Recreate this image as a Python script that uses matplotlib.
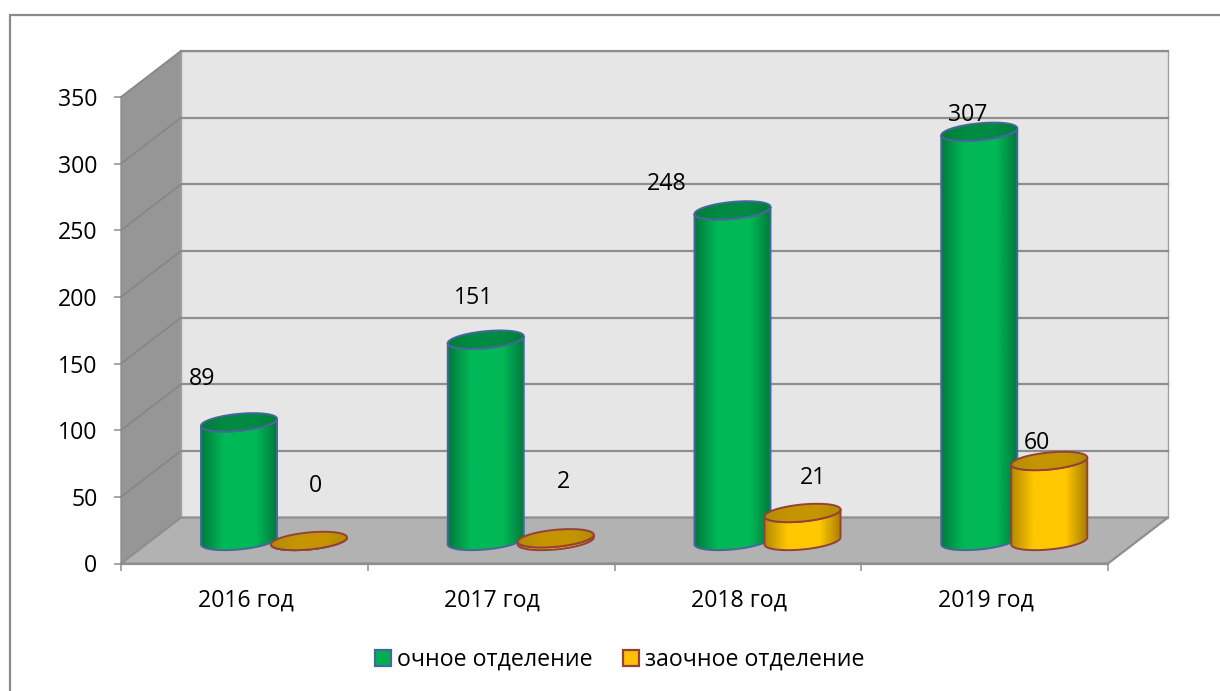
import numpy as np
import matplotlib
matplotlib.use("Agg")
import matplotlib.pyplot as plt
from matplotlib.colors import LinearSegmentedColormap
from matplotlib.lines import Line2D
from matplotlib.patches import Polygon, Patch

categories = ["2016 год", "2017 год", "2018 год", "2019 год"]
series_names = ["очное отделение", "заочное отделение"]
fulltime = [89, 151, 248, 307]
extramural = [0, 2, 21, 60]
y_ticks = [0, 50, 100, 150, 200, 250, 300, 350]

# label offsets from the top centre of each cylinder, pixels (x right, y up)
fulltime_lab = [(-37, 45), (-12, 43), (-66, 28), (-12, 18)]
extramural_lab = [(6, 56), (8, 58), (11, 36), (-12, 19)]

W, H = 1220, 691
L, R, T, B = 121, 1108, 97, 563.5       # front plane, pixels from top-left
DX, DY = 60, 46                         # depth of the box, pixels
plt.rcParams["font.family"] = ["Open Sans", "DejaVu Sans"]
FS = 16.7

fig = plt.figure(figsize=(W / 100, H / 100), dpi=100, facecolor="white")
fig.add_artist(Line2D([9.5 / W, 9.5 / W, 1], [0, 1 - 15 / H, 1 - 15 / H], transform=fig.transFigure,
                      color="#8a8a8a", lw=1.6, zorder=-1, solid_joinstyle="miter"))
ax = fig.add_axes([L / W, 1 - B / H, (R - L) / W, (B - T) / H])
ax.patch.set_visible(False)
ax.set_xlim(0, 4)
ax.set_ylim(0, 350)
px = 4 / (R - L)
py = 350 / (B - T)
dx, dy = DX * px, DY * py

GRID = "#8e8e8e"
ax.add_patch(Polygon([(dx, dy), (4 + dx, dy), (4 + dx, 350 + dy), (dx, 350 + dy)],
                     fc="#e6e6e6", ec="#a0a0a0", lw=1, zorder=1, clip_on=False))
ax.add_patch(Polygon([(0, 0), (dx, dy), (dx, 350 + dy), (0, 350)],
                     fc="#969696", ec="#a0a0a0", lw=1, zorder=1.5, clip_on=False))
for v in y_ticks[1:]:
    ax.plot([dx, 4 + dx], [v + dy, v + dy], color=GRID, lw=1.6, zorder=1.2, clip_on=False)
    ax.plot([0, dx], [v, v + dy], color="#868686", lw=1.2, zorder=1.6, clip_on=False)
ax.add_patch(Polygon([(0, 0), (4, 0), (4 + dx, dy), (dx, dy)],
                     fc="#b2b2b2", ec="#8e8e8e", lw=1.6, zorder=2, clip_on=False))

A, BB, C = 38, 3.5, 8.5   # ellipse shape, pixels


def ell(cx, cy, t):
    return np.c_[cx + A * np.cos(t) * px, cy + (BB * np.cos(t) + C * np.sin(t)) * py]


def grad(dark, mid, dark2):
    return LinearSegmentedColormap.from_list(
        "g", [(0, dark), (0.3, mid), (0.72, mid), (1, dark2)], 256)


def shaded(poly, cmap, x0, x1, y0, y1, z):
    poly.set_zorder(z + 0.2)
    ax.add_patch(poly)
    g = np.linspace(0, 1, 256).reshape(1, -1)
    im = ax.imshow(g, cmap=cmap, extent=[x0, x1, y0, y1], aspect="auto",
                   interpolation="bilinear", zorder=z)
    im.set_clip_path(poly)


def cylinder(cx, v, body_cm, top_cm, edge, z):
    y0 = 0.49 * dy
    y1 = y0 + v
    t_low = np.linspace(np.pi, 2 * np.pi, 80)
    pts = np.vstack([ell(cx, y1, t_low), ell(cx, y0, t_low[::-1])])
    x0, x1 = cx - A * px, cx + A * px
    body = Polygon(pts, closed=True, fc="none", ec=edge, lw=1.4, clip_on=False)
    shaded(body, body_cm, x0, x1, y0 - 12 * py, y1 + 12 * py, z)
    top = Polygon(ell(cx, y1, np.linspace(0, 2 * np.pi, 160)), closed=True,
                  fc="none", ec=edge, lw=1.4, clip_on=False)
    shaded(top, top_cm, x0, x1, y1 - 12 * py, y1 + 12 * py, z + 0.3)
    return y1


green_body = grad("#007a3d", "#00b956", "#007a3d")
green_top = grad("#007c3a", "#008a42", "#007c3a")
orange_body = grad("#b58900", "#ffc800", "#a87f00")
orange_top = grad("#b38a00", "#c49500", "#b38a00")
BLUE, RED = "#44689c", "#96403a"
OFF1, OFF2 = 118 / 246.75, 188 / 246.75

for i in range(len(categories)):
    for vals, off, bc, tc, ec, z, lab in [
        (fulltime, OFF1, green_body, green_top, BLUE, 3, fulltime_lab),
        (extramural, OFF2, orange_body, orange_top, RED, 4, extramural_lab),
    ]:
        cx = i + off
        yt = cylinder(cx, vals[i], bc, tc, ec, z)
        ax.annotate(str(vals[i]), (cx, yt), xytext=(lab[i][0] * 0.72, (lab[i][1] - 1.5) * 0.72),
                    textcoords="offset points", ha="center", va="center",
                    fontsize=FS, color="black", zorder=6, annotation_clip=False)

ax.set_xlim(0, 4)
ax.set_ylim(0, 350)
for s in ["top", "right"]:
    ax.spines[s].set_visible(False)
ax.spines["left"].set_color("#8e8e8e")
ax.spines["bottom"].set_color("#8e8e8e")
ax.spines["left"].set_linewidth(1)
ax.spines["bottom"].set_linewidth(1.6)
ax.spines["left"].set_zorder(2.5)
ax.spines["bottom"].set_zorder(2.5)
ax.set_yticks(y_ticks)
for lbl in ax.get_yticklabels():
    lbl.set_verticalalignment("center_baseline")
ax.set_xticks(range(5))
ax.set_xticklabels([])
ax.set_xticks(np.arange(4) + 0.505, categories, minor=True)
ax.tick_params(axis="y", length=5, width=1.1, color="#8e8e8e", pad=12, labelsize=FS)
ax.tick_params(axis="x", which="major", length=5, width=1.1, color="#8e8e8e")
ax.tick_params(axis="x", which="minor", length=0, pad=18, labelsize=FS)

handles = [Patch(fc="#00b050", ec=BLUE, lw=1.6), Patch(fc="#ffc000", ec=RED, lw=1.6)]
fig.legend(handles, series_names, loc="center", bbox_to_anchor=(620 / W, 1 - 660 / H), ncol=2,
           frameon=False, fontsize=FS, handlelength=0.68, handleheight=0.68, handletextpad=0.28,
           columnspacing=1.3, borderpad=0)
fig.savefig("out.png", dpi=100)
